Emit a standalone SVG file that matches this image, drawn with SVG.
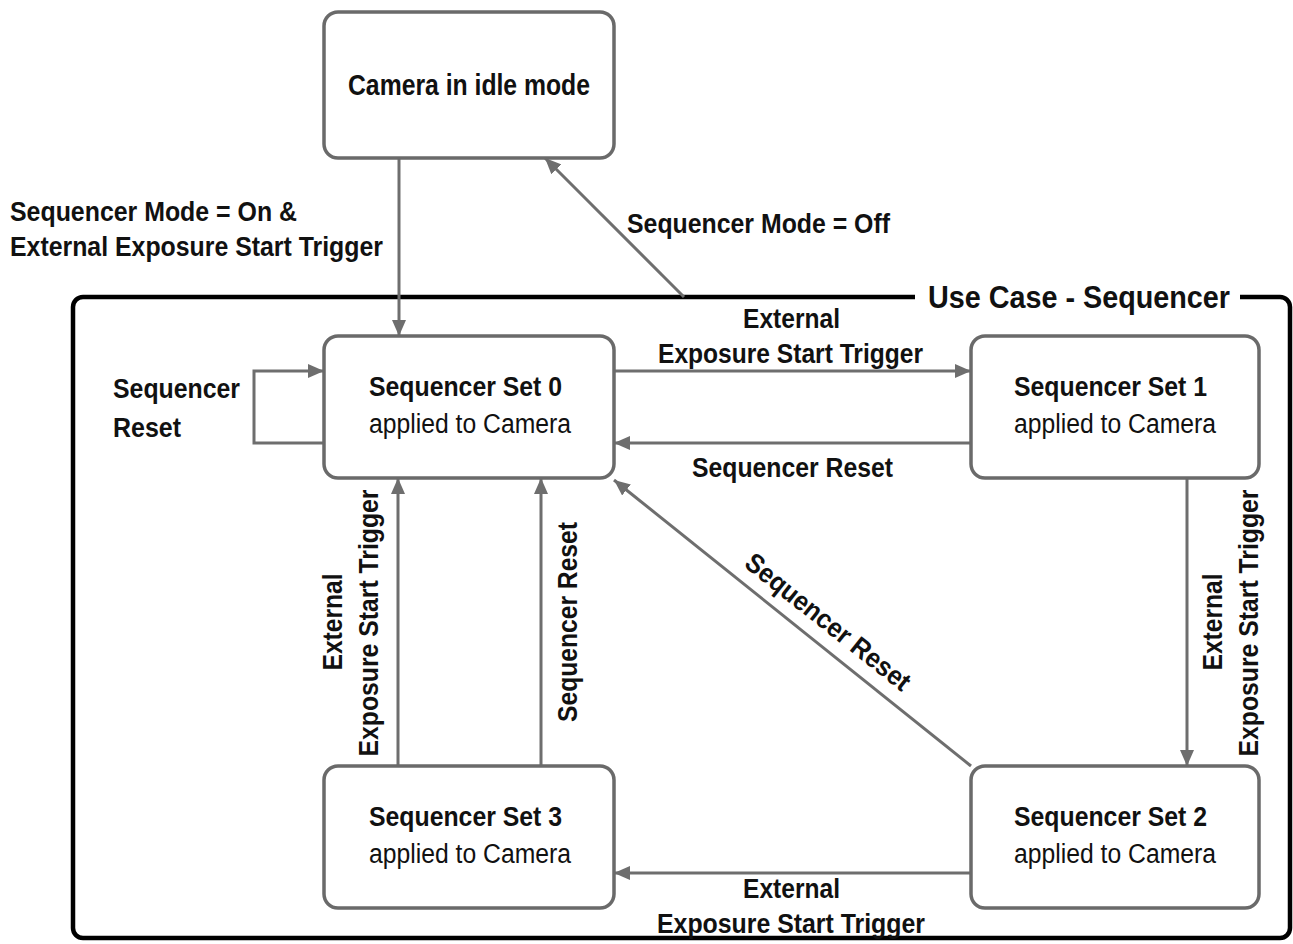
<svg xmlns="http://www.w3.org/2000/svg" width="1293" height="944" viewBox="0 0 1293 944">
  <style>
    .box { fill: #ffffff; stroke: #6a6a6a; stroke-width: 3.5; }
    .edge { fill: none; stroke: #6e6e6e; stroke-width: 3; }
    .frame { fill: none; stroke: #000000; stroke-width: 4.5; }
    .t { font-family: "Liberation Sans", Arial, sans-serif; font-size: 27px; fill: #111111; }
    .b { font-weight: bold; }
    .m { text-anchor: middle; }
  </style>
  <defs>
    <marker id="arrow" markerUnits="userSpaceOnUse" markerWidth="18" markerHeight="14" refX="16" refY="7" orient="auto">
      <path d="M0,0 L16,7 L0,14 Z" fill="#6e6e6e"/>
    </marker>
  </defs>

  <rect width="1293" height="944" fill="#ffffff"/>

  <!-- use-case frame with title gap -->
  <g id="frame">
    <path class="frame" d="M915,297 H83 A10,10 0 0 0 73,307 V928 A10,10 0 0 0 83,938 H1280 A10,10 0 0 0 1290,928 V307 A10,10 0 0 0 1280,297 H1240"/>
    <text class="t b" x="928" y="308" style="font-size:31px" textLength="302" lengthAdjust="spacingAndGlyphs">Use Case - Sequencer</text>
  </g>

  <!-- transitions -->
  <g id="connectors">
    <path class="edge" d="M399,158 V336" marker-end="url(#arrow)"/>
    <path class="edge" d="M684,297 L545,158" marker-end="url(#arrow)"/>
    <path class="edge" d="M614,371 H971" marker-end="url(#arrow)"/>
    <path class="edge" d="M971,443 H614" marker-end="url(#arrow)"/>
    <path class="edge" d="M324,443 H254 V371 H324" marker-end="url(#arrow)"/>
    <path class="edge" d="M398,766 V478" marker-end="url(#arrow)"/>
    <path class="edge" d="M541,766 V478" marker-end="url(#arrow)"/>
    <path class="edge" d="M971,766 L614,480" marker-end="url(#arrow)"/>
    <path class="edge" d="M1187,478 V766" marker-end="url(#arrow)"/>
    <path class="edge" d="M971,873 H614" marker-end="url(#arrow)"/>

    <text class="t b" x="10" y="221" textLength="287" lengthAdjust="spacingAndGlyphs">Sequencer Mode = On &amp;</text>
    <text class="t b" x="10" y="256" textLength="373" lengthAdjust="spacingAndGlyphs">External Exposure Start Trigger</text>
    <text class="t b" x="627" y="233" textLength="263" lengthAdjust="spacingAndGlyphs">Sequencer Mode = Off</text>

    <text class="t b" x="743" y="328" textLength="97" lengthAdjust="spacingAndGlyphs">External</text>
    <text class="t b" x="658" y="363" textLength="265" lengthAdjust="spacingAndGlyphs">Exposure Start Trigger</text>
    <text class="t b" x="692" y="477" textLength="201" lengthAdjust="spacingAndGlyphs">Sequencer Reset</text>

    <text class="t b" x="113" y="398" textLength="127" lengthAdjust="spacingAndGlyphs">Sequencer</text>
    <text class="t b" x="113" y="437" textLength="68" lengthAdjust="spacingAndGlyphs">Reset</text>

    <text class="t b m" transform="translate(342,622) rotate(-90)" textLength="97" lengthAdjust="spacingAndGlyphs">External</text>
    <text class="t b m" transform="translate(378,623) rotate(-90)" textLength="267" lengthAdjust="spacingAndGlyphs">Exposure Start Trigger</text>
    <text class="t b m" transform="translate(577,622) rotate(-90)" textLength="200" lengthAdjust="spacingAndGlyphs">Sequencer Reset</text>

    <text class="t b m" transform="translate(828,622) rotate(38.5)" y="9" textLength="203" lengthAdjust="spacingAndGlyphs">Sequencer Reset</text>

    <text class="t b m" transform="translate(1222,622) rotate(-90)" textLength="97" lengthAdjust="spacingAndGlyphs">External</text>
    <text class="t b m" transform="translate(1258,623) rotate(-90)" textLength="267" lengthAdjust="spacingAndGlyphs">Exposure Start Trigger</text>

    <text class="t b" x="743" y="898" textLength="97" lengthAdjust="spacingAndGlyphs">External</text>
    <text class="t b" x="657" y="933" textLength="268" lengthAdjust="spacingAndGlyphs">Exposure Start Trigger</text>
  </g>

  <g id="idle">
    <rect class="box" x="324" y="12" width="290" height="146" rx="14"/>
    <text class="t b" x="348" y="95" style="font-size:29px" textLength="242" lengthAdjust="spacingAndGlyphs">Camera in idle mode</text>
  </g>

  <g id="set0">
    <rect class="box" x="324" y="336" width="290" height="142" rx="14"/>
    <text class="t b" x="369" y="396" textLength="193" lengthAdjust="spacingAndGlyphs">Sequencer Set 0</text>
    <text class="t" x="369" y="433" textLength="202" lengthAdjust="spacingAndGlyphs">applied to Camera</text>
  </g>

  <g id="set1">
    <rect class="box" x="971" y="336" width="288" height="142" rx="14"/>
    <text class="t b" x="1014" y="396" textLength="193" lengthAdjust="spacingAndGlyphs">Sequencer Set 1</text>
    <text class="t" x="1014" y="433" textLength="202" lengthAdjust="spacingAndGlyphs">applied to Camera</text>
  </g>

  <g id="set2">
    <rect class="box" x="971" y="766" width="288" height="142" rx="14"/>
    <text class="t b" x="1014" y="826" textLength="193" lengthAdjust="spacingAndGlyphs">Sequencer Set 2</text>
    <text class="t" x="1014" y="863" textLength="202" lengthAdjust="spacingAndGlyphs">applied to Camera</text>
  </g>

  <g id="set3">
    <rect class="box" x="324" y="766" width="290" height="142" rx="14"/>
    <text class="t b" x="369" y="826" textLength="193" lengthAdjust="spacingAndGlyphs">Sequencer Set 3</text>
    <text class="t" x="369" y="863" textLength="202" lengthAdjust="spacingAndGlyphs">applied to Camera</text>
  </g>
</svg>
